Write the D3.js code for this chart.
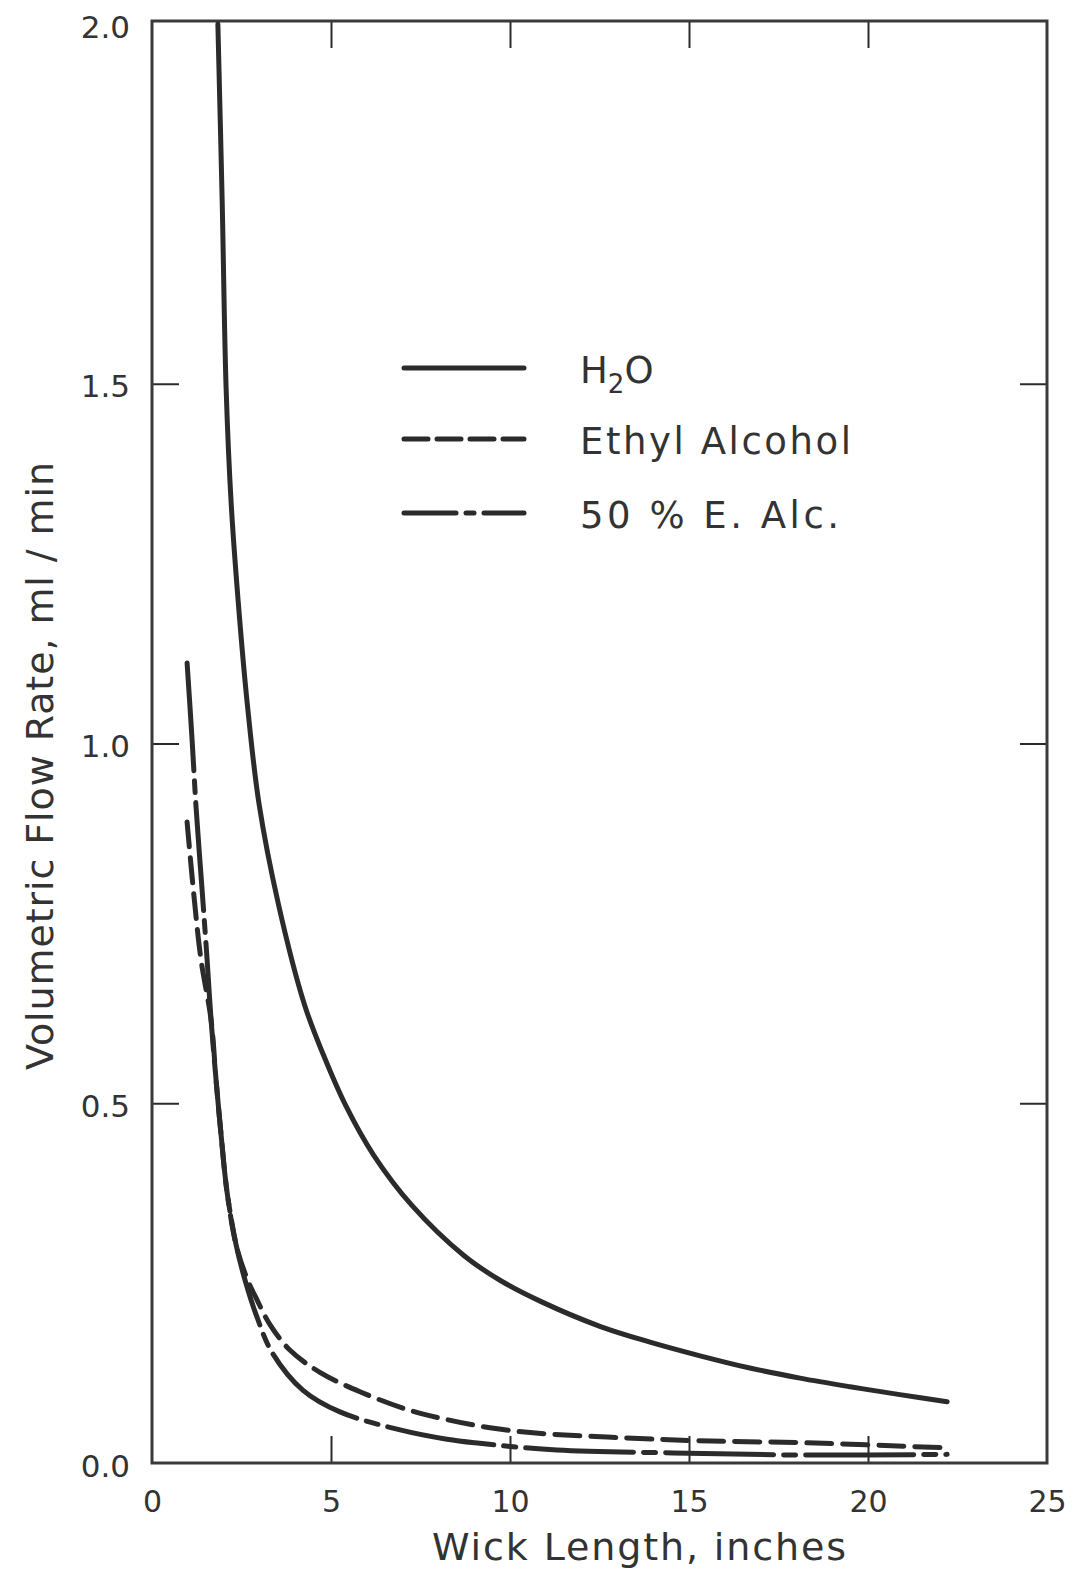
<!DOCTYPE html>
<html>
<head>
<meta charset="utf-8">
<script src="https://cdn.jsdelivr.net/npm/d3@7"></script>
<style>
  html, body { margin: 0; padding: 0; background: #fff; }
  svg { display: block; }
  text { font-family: "DejaVu Sans", "Liberation Sans", sans-serif; fill: #333; }
</style>
</head>
<body>
<svg id="chart" width="1080" height="1575"></svg>
<script>
// Wick length (inches) and volumetric flow rate (ml/min) for each liquid
const waterLength = [1.84, 1.96, 2.07, 2.21, 2.41, 2.66, 2.99, 3.53, 4.26, 4.79, 5.41, 6.19, 7.26, 8.72, 9.72, 10.84, 12.51, 13.91, 15.31, 16.70, 18.10, 19.50, 20.89, 22.21];
const waterFlow   = [2.00, 1.754, 1.494, 1.335, 1.196, 1.056, 0.916, 0.777, 0.637, 0.567, 0.497, 0.428, 0.358, 0.288, 0.254, 0.225, 0.190, 0.168, 0.149, 0.132, 0.118, 0.106, 0.095, 0.085];

const ethylLength = [0.98, 1.17, 1.37, 1.65, 1.79, 1.93, 2.09, 2.35, 2.65, 2.93, 3.30, 3.85, 4.69, 5.81, 7.15, 8.27, 9.44, 10.64, 12.71, 15.22, 18.30, 22.21];
const ethylFlow   = [0.891, 0.789, 0.699, 0.616, 0.532, 0.456, 0.379, 0.303, 0.257, 0.227, 0.192, 0.157, 0.126, 0.099, 0.074, 0.060, 0.049, 0.042, 0.036, 0.031, 0.028, 0.021];

const mixLength = [0.98, 1.12, 1.23, 1.40, 1.54, 1.65, 1.79, 1.93, 2.09, 2.35, 2.60, 2.91, 3.35, 4.22, 5.25, 6.93, 8.24, 9.02, 11.31, 14.55, 18.30, 22.21];
const mixFlow   = [1.112, 1.005, 0.912, 0.796, 0.699, 0.616, 0.532, 0.456, 0.379, 0.303, 0.254, 0.206, 0.154, 0.101, 0.071, 0.046, 0.033, 0.028, 0.018, 0.014, 0.011, 0.012];

const xTickValues = [0, 5, 10, 15, 20, 25];
const yTickValues = [0, 0.5, 1.0, 1.5, 2.0];
const yTickLabels = ["0.0", "0.5", "1.0", "1.5", "2.0"];

const xTitle = "Wick Length, inches";
const yTitle = "Volumetric Flow Rate, ml / min";

const series = [
  { key: "water", length: waterLength, flow: waterFlow, dash: null,           legendDash: null },
  { key: "ethyl", length: ethylLength, flow: ethylFlow, dash: "25,11",        legendDash: "24,9" },
  { key: "mix",   length: mixLength,   flow: mixFlow,   dash: "108,10,12,10", legendDash: "52,10,8,10" }
];

// Plot frame
const frameLeft = 152, frameRight = 1047, frameTop = 24, frameBottom = 1463;
const ink = "#2b2b2b";

const svg = d3.select("#chart");

const x = d3.scaleLinear().domain([0, 25]).range([frameLeft, frameRight]);
const y = d3.scaleLinear().domain([0, 2]).range([frameBottom, frameTop]);

svg.append("defs").append("clipPath").attr("id", "plotClip")
  .append("rect").attr("x", frameLeft).attr("y", frameTop - 3)
  .attr("width", frameRight - frameLeft).attr("height", frameBottom - frameTop + 3);

// Inward tick marks on all four sides
const innerX = [5, 10, 15, 20];
const innerY = [0.5, 1.0, 1.5];
const tickLen = 27;

function styleTicks(g) {
  g.select(".domain").remove();
  g.selectAll(".tick line").attr("stroke", ink).attr("stroke-width", 2);
  g.selectAll(".tick text").remove();
}

svg.append("g").attr("transform", `translate(0,${frameBottom})`)
  .call(d3.axisBottom(x).tickValues(innerX).tickSize(-tickLen)).call(styleTicks);
svg.append("g").attr("transform", `translate(0,${frameTop - 3})`)
  .call(d3.axisTop(x).tickValues(innerX).tickSize(-tickLen)).call(styleTicks);
svg.append("g").attr("transform", `translate(${frameLeft},0)`)
  .call(d3.axisLeft(y).tickValues(innerY).tickSize(-tickLen)).call(styleTicks);
svg.append("g").attr("transform", `translate(${frameRight},0)`)
  .call(d3.axisRight(y).tickValues(innerY).tickSize(-tickLen)).call(styleTicks);

// Frame
svg.append("rect")
  .attr("x", frameLeft).attr("y", frameTop - 3)
  .attr("width", frameRight - frameLeft).attr("height", frameBottom - frameTop + 3)
  .attr("fill", "none").attr("stroke", "#3a3a3a").attr("stroke-width", 3);

// Tick labels
const xLabels = svg.append("g").attr("transform", `translate(0,${frameBottom})`)
  .call(d3.axisBottom(x).tickValues(xTickValues).tickSize(0).tickPadding(28).tickFormat(d3.format("d")));
xLabels.select(".domain").remove();
xLabels.selectAll(".tick text").attr("font-size", 30).attr("fill", "#333")
  .attr("font-family", "DejaVu Sans, sans-serif");

const yLabels = svg.append("g").attr("transform", `translate(${frameLeft},0)`)
  .call(d3.axisLeft(y).tickValues(yTickValues).tickSize(0).tickPadding(22)
    .tickFormat((d, i) => yTickLabels[i]));
yLabels.select(".domain").remove();
yLabels.selectAll(".tick text").attr("font-size", 31).attr("dy", "0.42em").attr("fill", "#333")
  .attr("font-family", "DejaVu Sans, sans-serif");

// Axis titles
svg.append("text")
  .attr("x", 432).attr("y", 1560)
  .attr("font-size", 38)
  .attr("textLength", 414).attr("lengthAdjust", "spacing")
  .text(xTitle);

svg.append("text")
  .attr("transform", "translate(53,766) rotate(-90)")
  .attr("text-anchor", "middle")
  .attr("font-size", 38)
  .attr("textLength", 608).attr("lengthAdjust", "spacing")
  .text(yTitle);

// Curves
const line = d3.line()
  .x(d => x(d[0]))
  .y(d => y(d[1]))
  .curve(d3.curveCatmullRom.alpha(0.5));

const plot = svg.append("g").attr("clip-path", "url(#plotClip)");
series.forEach(s => {
  const pts = s.length.map((L, i) => [L, s.flow[i]]);
  plot.append("path")
    .attr("d", line(pts))
    .attr("fill", "none")
    .attr("stroke", ink)
    .attr("stroke-width", 5)
    .attr("stroke-linecap", "round")
    .attr("stroke-linejoin", "round")
    .attr("stroke-dasharray", s.dash);
});

// Legend
const legendRows = [368, 439, 513];
const legendBase = [383, 454, 528];
const legend = svg.append("g");
series.forEach((s, i) => {
  legend.append("line")
    .attr("x1", 404).attr("x2", 524)
    .attr("y1", legendRows[i]).attr("y2", legendRows[i])
    .attr("stroke", ink).attr("stroke-width", 5)
    .attr("stroke-linecap", "round")
    .attr("stroke-dasharray", s.legendDash);
});

const waterLabel = legend.append("text").attr("x", 580).attr("y", legendBase[0]).attr("font-size", 37);
waterLabel.append("tspan").text("H");
waterLabel.append("tspan").attr("font-size", 26).attr("dy", 10).text("2");
waterLabel.append("tspan").attr("dy", -10).text("O");

legend.append("text").attr("x", 580).attr("y", legendBase[1]).attr("font-size", 37)
  .attr("textLength", 271).attr("lengthAdjust", "spacing").text("Ethyl Alcohol");
legend.append("text").attr("x", 580).attr("y", legendBase[2]).attr("font-size", 37)
  .attr("textLength", 259).attr("lengthAdjust", "spacing").text("50 % E. Alc.");
</script>
</body>
</html>
